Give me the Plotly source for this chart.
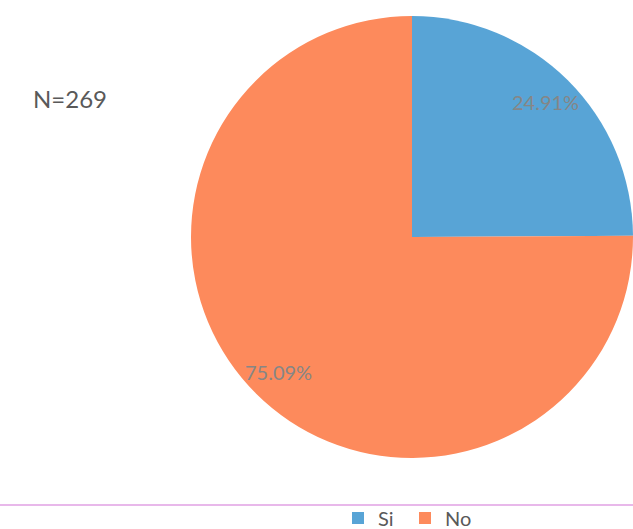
import math
import plotly.graph_objects as go

labels = ["Si", "No"]
values = [67, 202]
colors = ["#58a4d6", "#fd8a5c"]
n_label = "N=269"

W, H = 633, 529
cx, cy = 412, 237  # pie center in figure pixels (from top-left)
R = min(229, W - cx)

fig = go.Figure(go.Pie(
    labels=labels, values=values, sort=False, direction="clockwise", rotation=0,
    marker=dict(colors=colors, line=dict(width=0)),
    textinfo="none", hoverinfo="label+percent",
    domain=dict(x=[(cx - R) / W, (cx + R) / W], y=[(H - cy - R) / H, (H - cy + R) / H]),
))

total = sum(values)
cum = 0
annotations = []
for v in values:
    mid = (cum + v / 2) / total * 2 * math.pi
    cum += v
    r = 0.86 * R
    px = cx + r * math.sin(mid)
    py = cy - r * math.cos(mid)
    annotations.append(dict(
        x=px / W, y=1 - py / H, xref="paper", yref="paper", showarrow=False,
        text=f"{v / total * 100:.2f}%", font=dict(family="Lato", size=20, color="#868686"),
        xanchor="center", yanchor="middle",
    ))
annotations.append(dict(
    x=31 / W, y=1 - 98 / H, xref="paper", yref="paper", showarrow=False,
    text=n_label, font=dict(family="Lato", size=24, color="#595959"),
    xanchor="left", yanchor="middle",
))

line_y = 1 - 505 / H
fig.update_layout(
    width=W, height=H, margin=dict(l=0, r=0, t=0, b=0, autoexpand=False),
    paper_bgcolor="white", plot_bgcolor="white",
    annotations=annotations,
    showlegend=True,
    legend=dict(orientation="h", x=338 / W, xanchor="left",
                y=1 - 518 / H, yanchor="middle",
                font=dict(family="Lato", size=20, color="#595959"),
                itemwidth=30, entrywidth=22, entrywidthmode="pixels",
                tracegroupgap=0, bgcolor="rgba(0,0,0,0)"),
    shapes=[dict(type="line", xref="paper", yref="paper", x0=0, x1=1,
                 y0=line_y, y1=line_y, line=dict(color="#e8b8ea", width=2))],
)

fig.write_html(
    "out.html",
    config={"displayModeBar": False},
    post_script=(
        "document.documentElement.style.margin='0px';"
        "document.body.style.margin='0px';"
        "document.documentElement.style.overflow='hidden';"
        "document.body.style.overflow='hidden';"
    ),
)
